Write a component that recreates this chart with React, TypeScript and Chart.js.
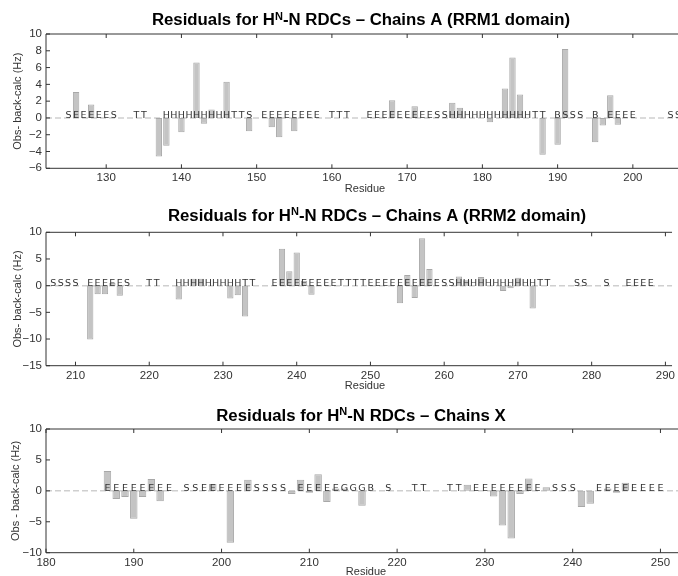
import React, { useEffect, useRef } from "react";
import { Chart, registerables } from "chart.js";

Chart.register(...registerables);

// ---------- Panel 1: Chains A (RRM1 domain) ----------
const rrm1Residues = [126, 128, 137, 138, 140, 142, 143, 144, 146, 149, 152, 153, 155, 168, 171, 176, 177, 181, 183, 184, 185, 188, 190, 191, 195, 196, 197, 198];
const rrm1Values = [3.1, 1.6, -4.6, -3.3, -1.7, 6.6, -0.7, 1.0, 4.3, -1.6, -1.1, -2.3, -1.6, 2.1, 1.4, 1.8, 1.2, -0.5, 3.5, 7.2, 2.8, -4.4, -3.2, 8.2, -2.9, -0.9, 2.7, -0.8];
const rrm1SSStart = 125;
const rrm1SS = ["S", "EEEEE", "S", "  ", "TT", "  ", "HHHHHHHHH", "TT", "S", " ", "EEEEEEEE", " ", "TTT", "  ", "EEEEEEEEE", "SS", "HHHHHHHHHHH", "TT", " ", "B", "SSS", " ", "B", " ", "EEEE", "    ", "SS"].join("");
const rrm1YTicks = [-6, -4, -2, 0, 2, 4, 6, 8, 10];

// ---------- Panel 2: Chains A (RRM2 domain) ----------
const rrm2Residues = [212, 213, 214, 215, 216, 224, 226, 227, 231, 232, 233, 238, 239, 240, 241, 242, 254, 255, 256, 257, 258, 262, 263, 265, 268, 269, 270, 272];
const rrm2Values = [-10.1, -1.6, -1.6, 0.5, -1.9, -2.6, 1.3, 1.3, -2.4, -1.8, -5.8, 6.9, 2.7, 6.2, 0.9, -1.7, -3.3, 2.0, -2.3, 8.9, 3.1, 1.7, 1.0, 1.6, -1.0, -0.5, 1.5, -4.3];
const rrm2SSStart = 207;
const rrm2SS = ["SSSS", " ", "EEEEE", "S", "  ", "TT", "  ", "HHHHHHHHH", "TT", "  ", "EEEEEEEEE", "TTTT", "EEEEEEEEEE", "SS", "HHHHHHHHHHH", "TT", "   ", "SS", "  ", "S", "  ", "EEEE"].join("");
const rrm2YTicks = [-15, -10, -5, 0, 5, 10];

// ---------- Panel 3: Chains X ----------
const chainXResidues = [187, 188, 189, 190, 191, 192, 193, 199, 201, 203, 208, 209, 210, 211, 212, 213, 214, 216, 228, 231, 232, 233, 234, 235, 237, 241, 242, 244, 245, 246];
const chainXValues = [3.2, -1.3, -1.0, -4.5, -1.0, 1.9, -1.7, 1.1, -8.4, 1.8, -0.5, 1.8, -0.3, 2.7, -1.8, 0.4, 0.4, -2.4, 1.0, -0.9, -5.6, -7.7, -0.5, 2.0, 0.6, -2.6, -2.1, 0.4, -0.3, 1.3];
const chainXSSStart = 187;
const chainXSS = ["EEEEEEEE", " ", "SS", "EEEEEE", "SSSS", " ", "EEEEE", "GGG", "B", " ", "S", "  ", "TT", "  ", "TT", " ", "EEEEEEEE", " ", "SSS", "  ", "EEEEEEEE"].join("");
const chainXYTicks = [-10, -5, 0, 5, 10];

const SANS = '"Liberation Sans", Arial, Helvetica, sans-serif';

type Panel = {
  top: number;
  height: number;
  chartTop: number;
  chartBottom: number;
  xMin: number;
  xMax: number;
  yTicks: number[];
  residues: number[];
  values: number[];
  ssStart: number;
  ss: string;
  titleRest: string;
  titleCx: number;
  titleBaseline: number;
  yTitle: string;
  yTitleX: number;
  xTitleY: number;
  xTitleCx: number;
};

const panels: Panel[] = [
  {
    top: 0, height: 195, chartTop: 34, chartBottom: 168.3,
    xMin: 122, xMax: 206, yTicks: rrm1YTicks,
    residues: rrm1Residues, values: rrm1Values, ssStart: rrm1SSStart, ss: rrm1SS,
    titleRest: "-N RDCs \u2013 Chains A (RRM1 domain)", titleCx: 361, titleBaseline: 25,
    yTitle: "Obs- back-calc (Hz)", yTitleX: 18, xTitleY: 189, xTitleCx: 365,
  },
  {
    top: 195, height: 195, chartTop: 37.3, chartBottom: 170.7,
    xMin: 206, xMax: 290.9, yTicks: rrm2YTicks,
    residues: rrm2Residues, values: rrm2Values, ssStart: rrm2SSStart, ss: rrm2SS,
    titleRest: "-N RDCs \u2013 Chains A (RRM2 domain)", titleCx: 377, titleBaseline: 25.7,
    yTitle: "Obs- back-calc (Hz)", yTitleX: 18, xTitleY: 191, xTitleCx: 365,
  },
  {
    top: 390, height: 186, chartTop: 39, chartBottom: 162.7,
    xMin: 180, xMax: 252, yTicks: chainXYTicks,
    residues: chainXResidues, values: chainXValues, ssStart: chainXSSStart, ss: chainXSS,
    titleRest: "-N RDCs \u2013 Chains X", titleCx: 361, titleBaseline: 30.7,
    yTitle: "Obs - back-calc (Hz)", yTitleX: 16, xTitleY: 182, xTitleCx: 366,
  },
];

const decorPlugin = {
  id: "decor",
  beforeDatasetsDraw(chart: any, _args: any, o: any) {
    const { ctx, chartArea: ca, scales } = chart;
    const y0 = scales.y.getPixelForValue(0);
    ctx.save();
    ctx.strokeStyle = "#cfcfcf";
    ctx.lineWidth = 1.5;
    ctx.setLineDash([6, 3]);
    ctx.beginPath();
    ctx.moveTo(ca.left, y0);
    ctx.lineTo(ca.right, y0);
    ctx.stroke();
    ctx.restore();
  },
  afterDatasetsDraw(chart: any, _args: any, o: any) {
    const { ctx, chartArea: ca, scales } = chart;
    const xs = scales.x;
    const ys = scales.y;
    const y0 = ys.getPixelForValue(0);
    ctx.save();
    // secondary structure letters
    ctx.font = '9.5px "DejaVu Sans", sans-serif';
    ctx.fillStyle = "#333";
    ctx.textAlign = "center";
    ctx.textBaseline = "alphabetic";
    const ss: string = o.ss;
    for (let i = 0; i < ss.length; i++) {
      const ch = ss[i];
      if (ch === " ") continue;
      const x = xs.getPixelForValue(o.ssStart + i);
      ctx.fillText(ch, x, y0 + 0.5);
    }
    // frame
    ctx.strokeStyle = "#333";
    ctx.lineWidth = 1;
    ctx.setLineDash([]);
    ctx.beginPath();
    ctx.moveTo(ca.right, ca.top);
    ctx.lineTo(ca.left, ca.top);
    ctx.lineTo(ca.left, ca.bottom);
    ctx.lineTo(ca.right, ca.bottom);
    ctx.stroke();
    // inward tick marks
    ctx.beginPath();
    for (const t of xs.ticks) {
      const x = xs.getPixelForValue(t.value);
      ctx.moveTo(x, ca.top);
      ctx.lineTo(x, ca.top + 4);
      ctx.moveTo(x, ca.bottom);
      ctx.lineTo(x, ca.bottom - 4);
    }
    for (const t of ys.ticks) {
      const y = ys.getPixelForValue(t.value);
      ctx.moveTo(ca.left, y);
      ctx.lineTo(ca.left + 4, y);
    }
    ctx.stroke();
    // title with superscript N
    const big = `bold 16.8px ${SANS}`;
    const small = `bold 11px ${SANS}`;
    const pre = "Residuals for H";
    const sup = "N";
    const rest: string = o.titleRest;
    ctx.font = big;
    const wPre = ctx.measureText(pre).width;
    const wRest = ctx.measureText(rest).width;
    ctx.font = small;
    const wSup = ctx.measureText(sup).width;
    const total = wPre + wSup + wRest;
    let x = o.titleCx - total / 2;
    ctx.fillStyle = "#000";
    ctx.textAlign = "left";
    ctx.textBaseline = "alphabetic";
    ctx.font = big;
    ctx.fillText(pre, x, o.titleBaseline);
    x += wPre;
    ctx.font = small;
    ctx.fillText(sup, x, o.titleBaseline - 5.5);
    x += wSup;
    ctx.font = big;
    ctx.fillText(rest, x, o.titleBaseline);
    // axis titles
    ctx.fillStyle = "#333";
    ctx.font = `11px ${SANS}`;
    ctx.textAlign = "center";
    ctx.textBaseline = "middle";
    ctx.fillText("Residue", o.xTitleCx, o.xTitleY);
    ctx.save();
    ctx.translate(o.yTitleX, (ca.top + ca.bottom) / 2);
    ctx.rotate(-Math.PI / 2);
    ctx.fillText(o.yTitle, 0, 0);
    ctx.restore();
    ctx.restore();
  },
};

function PanelChart({ p }: { p: Panel }) {
  const ref = useRef<HTMLCanvasElement | null>(null);
  useEffect(() => {
    if (!ref.current) return;
    const yStep = p.yTicks[1] - p.yTicks[0];
    const chart = new Chart(ref.current, {
      type: "bar",
      data: {
        datasets: [
          {
            data: p.residues.map((r, i) => ({ x: r, y: p.values[i] })),
            backgroundColor: "#c4c4c4",
            borderColor: "#a8a8a8",
            borderWidth: 1,
            borderSkipped: false,
            barPercentage: 0.85,
            categoryPercentage: 1.0,
          } as any,
        ],
      },
      options: {
        animation: false,
        responsive: false,
        devicePixelRatio: 1,
        layout: { padding: { top: p.chartTop, left: 0, right: 0, bottom: 0 } },
        plugins: {
          legend: { display: false },
          tooltip: { enabled: false },
          title: { display: false },
          decor: {
            ss: p.ss,
            ssStart: p.ssStart,
            titleRest: p.titleRest,
            titleCx: p.titleCx,
            titleBaseline: p.titleBaseline,
            yTitle: p.yTitle,
            yTitleX: p.yTitleX,
            xTitleY: p.xTitleY,
            xTitleCx: p.xTitleCx,
          },
        } as any,
        scales: {
          x: {
            type: "linear",
            min: p.xMin,
            max: p.xMax,
            offset: false,
            grid: { display: false, drawTicks: false },
            border: { display: false },
            ticks: {
              stepSize: 10,
              includeBounds: false,
              autoSkip: false,
              maxRotation: 0,
              color: "#333",
              font: { family: SANS, size: 11.5 },
              padding: 3,
            },
            afterFit: (s: any) => {
              s.height = p.height - p.chartBottom;
            },
          } as any,
          y: {
            type: "linear",
            min: p.yTicks[0],
            max: p.yTicks[p.yTicks.length - 1],
            grid: { display: false, drawTicks: false },
            border: { display: false },
            ticks: {
              stepSize: yStep,
              autoSkip: false,
              color: "#333",
              font: { family: SANS, size: 11.5 },
              padding: 4,
              callback: (v: any) => String(v).replace("-", "\u2212"),
            },
            afterFit: (s: any) => {
              s.width = 46;
            },
          } as any,
        },
      },
      plugins: [decorPlugin as any],
    });
    return () => chart.destroy();
  }, [p]);
  return (
    <div style={{ position: "absolute", left: 0, top: p.top, width: 678, height: p.height }}>
      <canvas ref={ref} width={678} height={p.height} style={{ display: "block" }} />
    </div>
  );
}

export default function App() {
  return (
    <div style={{ position: "absolute", left: 0, top: 0, width: 678, height: 576, background: "#fff", overflow: "hidden" }}>
      {panels.map((p, i) => (
        <PanelChart key={i} p={p} />
      ))}
    </div>
  );
}
